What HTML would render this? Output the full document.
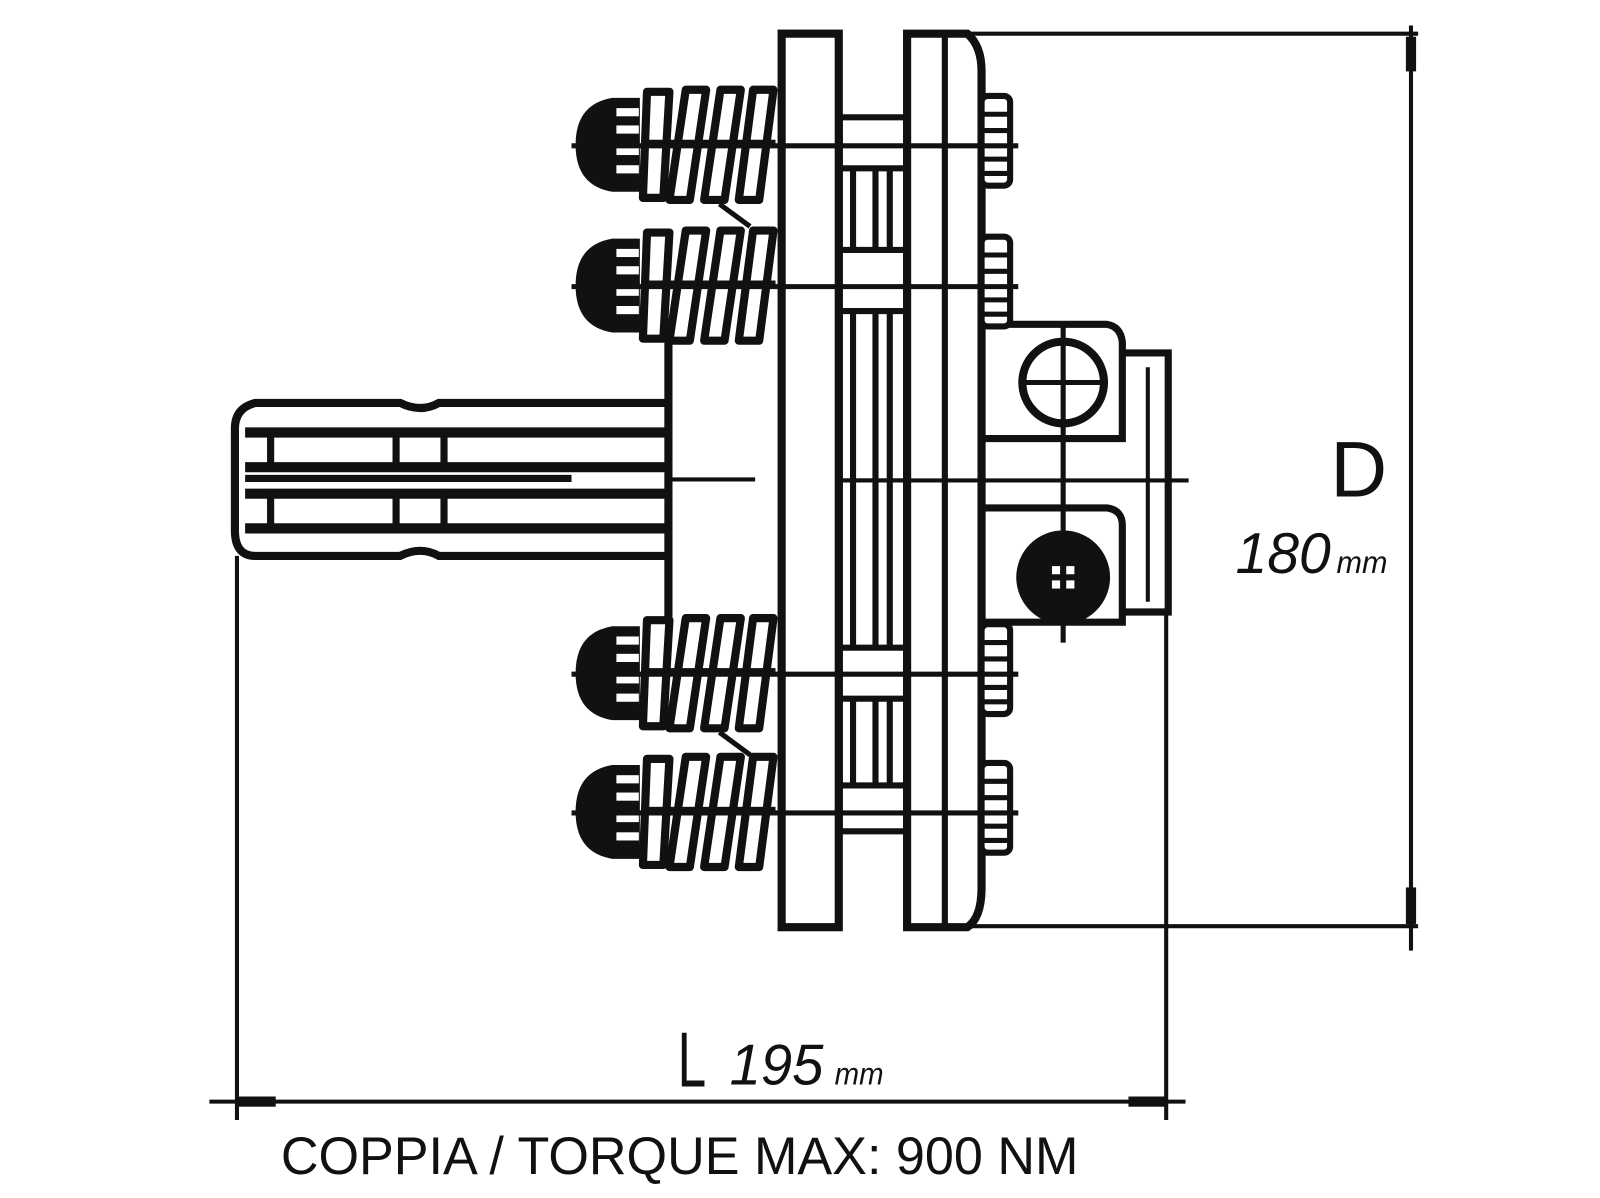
<!DOCTYPE html>
<html><head><meta charset="utf-8"><style>
html,body{margin:0;padding:0;background:#fff;}
svg{display:block;}
</style></head><body>
<svg width="1600" height="1198" viewBox="0 0 1568 1174.5" xmlns="http://www.w3.org/2000/svg">
<defs>
<g id="spring">
  <path d="M627,-46 L600,-46 Q564,-40 564,0 Q564,40 600,46 L627,46 Z" fill="#111"/>
  <rect x="604" y="-36" width="22" height="8" fill="#fff"/>
  <rect x="604" y="-19" width="22" height="8" fill="#fff"/>
  <rect x="604" y="2" width="22" height="8" fill="#fff"/>
  <rect x="604" y="20" width="22" height="8" fill="#fff"/>
  <g fill="#fff" stroke="#111" stroke-width="8" stroke-linejoin="round">
    <path d="M634,-52 L656,-52 L650,52 L630,52 Z"/>
    <path d="M672,-54 L692,-54 L676,54 L656,54 Z"/>
    <path d="M706,-54 L726,-54 L710,54 L690,54 Z"/>
    <path d="M738,-54 L758,-54 L744,54 L724,54 Z"/>
  </g>
  <rect x="630" y="-5" width="130" height="8" fill="#111"/>
</g>
<g id="nut">
  <rect x="962" y="-48" width="28" height="88" rx="6" fill="#fff" stroke="#111" stroke-width="6"/>
  <line x1="962" y1="-30" x2="990" y2="-30" stroke="#111" stroke-width="5"/>
  <line x1="962" y1="-14" x2="990" y2="-14" stroke="#111" stroke-width="5"/>
  <line x1="962" y1="14" x2="990" y2="14" stroke="#111" stroke-width="5"/>
  <line x1="962" y1="28" x2="990" y2="28" stroke="#111" stroke-width="5"/>
</g>
</defs>
<g stroke="#111" fill="none">
  <path d="M652,395 L430,395 Q412,405 392,395 L250,395 Q230,400 230,420 L230,520 Q230,545 250,545 L392,545 Q412,535 430,545 L652,545" stroke-width="8"/>
  <g stroke-width="10">
    <line x1="240" y1="424" x2="652" y2="424"/>
    <line x1="240" y1="458" x2="652" y2="458"/>
    <line x1="240" y1="484" x2="652" y2="484"/>
    <line x1="240" y1="518" x2="652" y2="518"/>
  </g>
  <line x1="240" y1="469" x2="560" y2="469" stroke-width="7"/>
  <g stroke-width="7">
    <line x1="265" y1="424" x2="265" y2="458"/><line x1="265" y1="484" x2="265" y2="518"/>
    <line x1="388" y1="424" x2="388" y2="458"/><line x1="388" y1="484" x2="388" y2="518"/>
    <line x1="435" y1="424" x2="435" y2="458"/><line x1="435" y1="484" x2="435" y2="518"/>
  </g>
  <line x1="655" y1="335" x2="655" y2="605" stroke-width="8"/>
  <line x1="655" y1="470" x2="740" y2="470" stroke-width="4"/>
  <line x1="815" y1="471" x2="1165" y2="471" stroke-width="4"/>
  <g stroke-width="6">
    <rect x="823" y="115" width="65" height="700"/>
    <line x1="823" y1="165" x2="888" y2="165"/>
    <line x1="823" y1="245" x2="888" y2="245"/>
    <line x1="823" y1="305" x2="888" y2="305"/>
    <line x1="823" y1="635" x2="888" y2="635"/>
    <line x1="823" y1="685" x2="888" y2="685"/>
    <line x1="823" y1="770" x2="888" y2="770"/>
    <line x1="836" y1="165" x2="836" y2="245"/><line x1="858" y1="165" x2="858" y2="245"/><line x1="872" y1="165" x2="872" y2="245"/>
    <line x1="836" y1="305" x2="836" y2="635"/><line x1="858" y1="305" x2="858" y2="635"/><line x1="872" y1="305" x2="872" y2="635"/>
    <line x1="836" y1="685" x2="836" y2="770"/><line x1="858" y1="685" x2="858" y2="770"/><line x1="872" y1="685" x2="872" y2="770"/>
  </g>
  <rect x="766" y="33" width="56" height="876" stroke-width="8" fill="#fff"/>
  <path d="M889,909 L889,33 L948,33 Q962,45 962,70 L962,870 Q962,900 948,909 Z" stroke-width="8" fill="#fff"/>
  <line x1="926" y1="33" x2="926" y2="909" stroke-width="6"/>
  <line x1="822" y1="471" x2="889" y2="471" stroke-width="4"/>
  <line x1="889" y1="471" x2="962" y2="471" stroke-width="4"/>
  <g stroke-width="7">
    <path d="M962,318 L1085,318 Q1098,320 1100,335 L1100,430 L962,430"/>
    <path d="M962,498 L1085,498 Q1100,500 1100,515 L1100,610 L962,610"/>
    <path d="M1100,346 L1145,346 L1145,600 L1100,600"/>
    <line x1="1125" y1="360" x2="1125" y2="590" stroke-width="4"/>
    <line x1="1042" y1="320" x2="1042" y2="630" stroke-width="5"/>
  </g>
  <circle cx="1042" cy="375" r="40" stroke-width="8" fill="#fff"/>
  <line x1="1000" y1="375" x2="1084" y2="375" stroke-width="5"/>
  <line x1="1042" y1="335" x2="1042" y2="415" stroke-width="5"/>
  <circle cx="1042" cy="566" r="46" fill="#111" stroke="none"/>
  <g fill="#fff" stroke="none">
    <rect x="1031" y="555" width="8" height="8"/><rect x="1045" y="555" width="8" height="8"/>
    <rect x="1031" y="569" width="8" height="8"/><rect x="1045" y="569" width="8" height="8"/>
  </g>
  <!-- spring links -->
  <line x1="705" y1="200" x2="735" y2="222" stroke-width="5"/>
  <line x1="705" y1="718" x2="735" y2="740" stroke-width="5"/>
</g>
<g transform="translate(0,142)"><use href="#spring"/><use href="#nut"/></g>
<g transform="translate(0,280)"><use href="#spring"/><use href="#nut"/></g>
<g transform="translate(0,660)"><use href="#spring"/><use href="#nut"/></g>
<g transform="translate(0,796)"><use href="#spring"/><use href="#nut"/></g>
<g stroke="#111" stroke-width="5">
  <line x1="560" y1="143" x2="998" y2="143"/>
  <line x1="560" y1="281" x2="998" y2="281"/>
  <line x1="560" y1="661" x2="998" y2="661"/>
  <line x1="560" y1="797" x2="998" y2="797"/>
</g>
<g stroke="#111" stroke-width="4">
  <line x1="950" y1="33" x2="1390" y2="33"/>
  <line x1="950" y1="908" x2="1390" y2="908"/>
  <line x1="1383" y1="25" x2="1383" y2="932"/>
  <line x1="232" y1="545" x2="232" y2="1098"/>
  <line x1="1143" y1="600" x2="1143" y2="1098"/>
  <line x1="205" y1="1080" x2="1162" y2="1080"/>
</g>
<g fill="#111">
  <rect x="1378" y="36" width="10" height="34"/>
  <rect x="1378" y="870" width="10" height="36"/>
  <rect x="234" y="1075" width="36" height="10"/>
  <rect x="1106" y="1075" width="36" height="10"/>
</g>
<g font-family="Liberation Sans, sans-serif" fill="#111">
  <text x="1304" y="487" font-size="77">D</text>
  <text x="1211" y="562" font-size="56" font-style="italic">180</text>
  <text x="1310" y="562" font-size="31" font-style="italic" textLength="50" lengthAdjust="spacingAndGlyphs">mm</text>
  <text x="664" y="1065" font-size="76" textLength="28" lengthAdjust="spacingAndGlyphs">L</text>
  <text x="715" y="1063" font-size="56" font-style="italic" textLength="92" lengthAdjust="spacingAndGlyphs">195</text>
  <text x="818" y="1063" font-size="31" font-style="italic" textLength="48" lengthAdjust="spacingAndGlyphs">mm</text>
  <text x="275" y="1151" font-size="52" textLength="782" lengthAdjust="spacingAndGlyphs">COPPIA / TORQUE MAX: 900 NM</text>
</g>
</svg>
</body></html>
